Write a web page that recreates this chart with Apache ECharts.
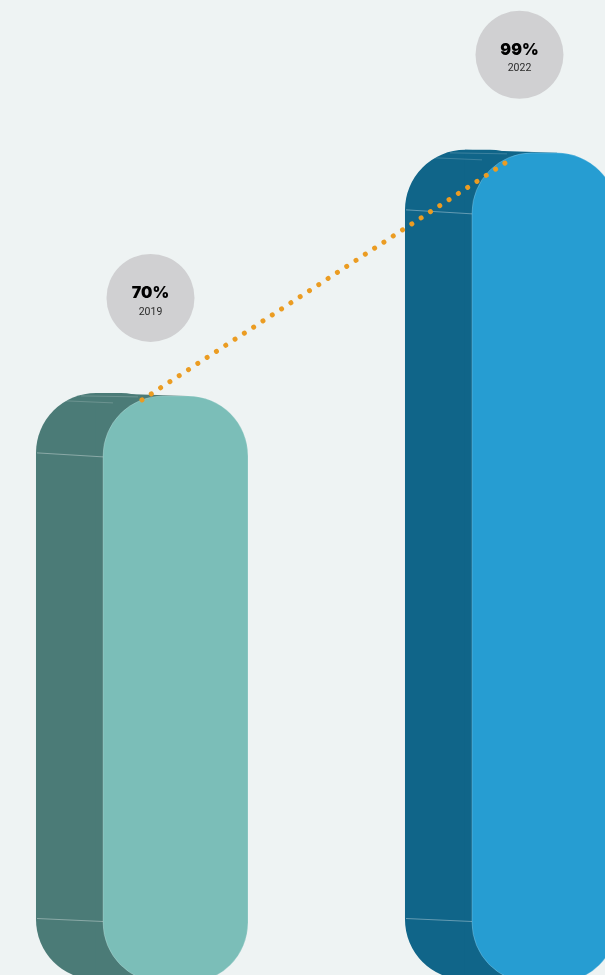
<!DOCTYPE html>
<html>
<head>
<meta charset="utf-8">
<script src="https://cdn.jsdelivr.net/npm/echarts@6/dist/echarts.min.js"></script>
<style>
html,body{margin:0;padding:0;background:#eef3f3;}
#chart{width:605px;height:975px;}
</style>
</head>
<body>
<div id="chart"></div>
<script>
const years = ['2019', '2022'];
const values = [70, 99];
const valueLabels = ['70%', '99%'];

const frontColors = ['#7bbeb8', '#269dd2'];
const backColors = ['#4b7b77', '#106589'];

const chart = echarts.init(document.getElementById('chart'), null, {renderer: 'canvas'});

const W = 145, R = 60, DX = -67, DY = -3;

function barItem(params, api) {
  const i = params.dataIndex;
  const top = api.coord([api.value(0), api.value(1)]);
  const base = api.coord([api.value(0), 0]);
  const fx = top[0] - W / 2;
  const fy = top[1];
  const h = base[1] - top[1];
  const bx = fx + DX, by = fy + DY;
  const children = [
    {type: 'rect', shape: {x: bx, y: by, width: W, height: h, r: R}, style: {fill: backColors[i]}},
    {type: 'polygon', shape: {points: [[bx + R, by], [fx + W - R, fy], [fx + W - R, fy + h], [bx + R, by + h]]}, style: {fill: backColors[i]}},
    {type: 'line', shape: {x1: bx + 1, y1: by + R, x2: fx, y2: fy + R + 1}, style: {stroke: 'rgba(255,255,255,0.35)', lineWidth: 1}},
    {type: 'line', shape: {x1: bx + 1, y1: by + h - R - 1, x2: fx, y2: fy + h - R - 1}, style: {stroke: 'rgba(255,255,255,0.35)', lineWidth: 1}},
    {type: 'line', shape: {x1: bx + 30, y1: by + 8, x2: fx + 10, y2: fy + 7}, style: {stroke: 'rgba(255,255,255,0.18)', lineWidth: 1}},
    {type: 'line', shape: {x1: bx + 45, y1: by + 3, x2: fx + 35, y2: fy + 1}, style: {stroke: 'rgba(255,255,255,0.18)', lineWidth: 1}},
    {type: 'rect', shape: {x: fx, y: fy, width: W, height: h, r: R}, style: {fill: frontColors[i], stroke: 'rgba(255,255,255,0.25)', lineWidth: 0.8}}
  ];
  if (i > 0) {
    const prevTop = api.coord([i - 1, values[i - 1]]);
    children.push({
      type: 'line',
      shape: {x1: prevTop[0] + DX / 2, y1: prevTop[1] + 4, x2: top[0] + DX / 2 + 2, y2: top[1] + 5},
      style: {stroke: '#eb9c22', lineWidth: 5, lineDash: [0.01, 11.1], lineCap: 'round'}
    });
  }
  return {type: 'group', children: children};
}

function labelItem(params, api) {
  const i = params.dataIndex;
  const top = api.coord([api.value(0), api.value(1)]);
  const cx = top[0] - 25;
  const cy = top[1] - 98;
  return {
    type: 'group',
    children: [
      {type: 'circle', shape: {cx: cx, cy: cy, r: 44}, style: {fill: '#d0d0d2'}},
      {type: 'text', x: cx, y: cy - 5, style: {text: valueLabels[i], fill: '#000000', font: '900 16px Inter, "Open Sans", sans-serif', align: 'center', verticalAlign: 'middle'}},
      {type: 'text', x: cx, y: cy + 14, style: {text: years[i], fill: '#2a2a2a', font: '10.5px Roboto, sans-serif', align: 'center', verticalAlign: 'middle'}}
    ]
  };
}

const seriesData = values.map((v, i) => [i, v]);

chart.setOption({
  backgroundColor: '#eef3f3',
  animation: false,
  grid: {left: 0, right: 0, top: 0, bottom: 0, containLabel: false},
  xAxis: {type: 'value', min: -0.4756, max: 1.164, show: false},
  yAxis: {type: 'value', min: 0.895, max: 117.24, show: false},
  series: [
    {type: 'custom', renderItem: barItem, data: seriesData, clip: false, z: 2},
    {type: 'custom', renderItem: labelItem, data: seriesData, clip: false, z: 3}
  ]
});
</script>
</body>
</html>
